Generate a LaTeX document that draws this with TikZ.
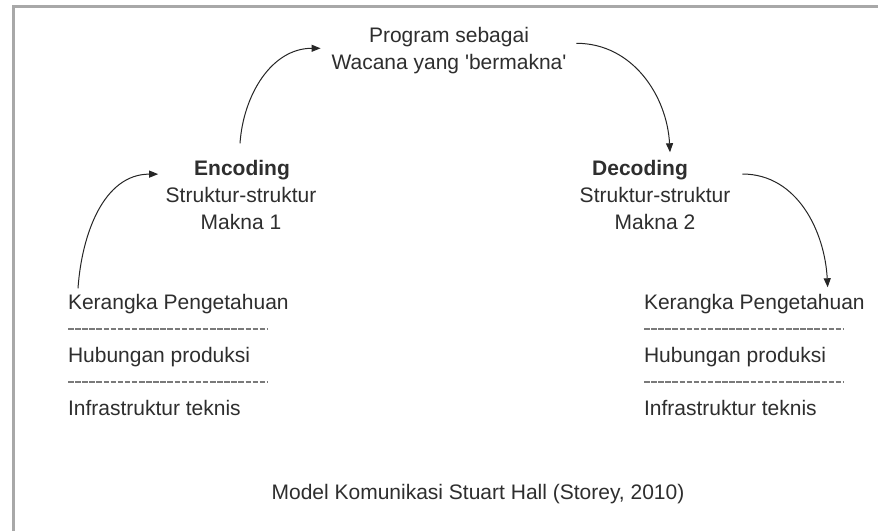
\documentclass[tikz,border=0pt]{standalone}
\usepackage{fontspec}
\setmainfont{Liberation Sans}
\usetikzlibrary{arrows.meta}
\definecolor{txtc}{HTML}{2E2E2E}
\definecolor{framec}{HTML}{A8A8A8}
\definecolor{sepc}{HTML}{7A7A7A}
\begin{document}
\begin{tikzpicture}[x=1pt,y=-1pt,
  txt/.style={inner sep=0pt, outer sep=0pt, text=txtc, font=\fontsize{21}{27}\selectfont},
  ttl/.style={txt, font=\fontsize{21}{27}\selectfont\bfseries},
  arr/.style={draw=black!85, line width=1pt, -{Triangle[length=9pt,width=7pt]}},
  sepline/.style={draw=sepc, line width=1.1pt, dash pattern=on 5.5pt off 1.6pt},
  frameline/.style={draw=framec, line width=3pt}
]
\useasboundingbox (0,0) rectangle (878,531);
\fill[white] (0,0) rectangle (878,531);
\draw[frameline] (13.5,531) -- (13.5,6.5) -- (878,6.5);

% top node
\node[txt, align=center, anchor=north] (prog) at (449,27) {Program sebagai\\Wacana yang \textquotesingle bermakna\textquotesingle};

% encoding
\node[ttl, anchor=base] (enct) at (242,175.5) {Encoding};
\node[txt, align=center, anchor=north] (encb) at (241,187) {Struktur-struktur\\Makna 1};

% decoding
\node[ttl, anchor=base] (dect) at (640,175.5) {Decoding};
\node[txt, align=center, anchor=north] (decb) at (655,187) {Struktur-struktur\\Makna 2};

% left stack
\node[txt, anchor=base west] (kerL) at (68,309.5) {Kerangka Pengetahuan};
\node[txt, anchor=base west] (hubL) at (68,362.5) {Hubungan produksi};
\node[txt, anchor=base west] (infL) at (68,415.5) {Infrastruktur teknis};
\draw[sepline] ([yshift=-19.5pt]kerL.base west) -- ++(199,0);
\draw[sepline] ([yshift=-19.5pt]hubL.base west) -- ++(199,0);

% right stack
\node[txt, anchor=base west] (kerR) at (644,309.5) {Kerangka Pengetahuan};
\node[txt, anchor=base west] (hubR) at (644,362.5) {Hubungan produksi};
\node[txt, anchor=base west] (infR) at (644,415.5) {Infrastruktur teknis};
\draw[sepline] ([yshift=-19.5pt]kerR.base west) -- ++(199,0);
\draw[sepline] ([yshift=-19.5pt]hubR.base west) -- ++(199,0);

% caption
\node[txt, anchor=base] (cap) at (478,499.5) {Model Komunikasi Stuart Hall (Storey, 2010)};

% arrows
\draw[arr] ([xshift=10pt,yshift=6pt]kerL.north west) to[out=86,in=180] ([xshift=-36pt,yshift=-4pt]enct.west);
\draw[arr] ([xshift=-2pt,yshift=17pt]enct.north) to[out=86,in=180] ([xshift=-11pt,yshift=2pt]prog.west);
\draw[arr] ([xshift=10pt,yshift=7pt]prog.east) to[out=0,in=93] ([xshift=30pt,yshift=8pt]dect.north);
\draw[arr] ([xshift=12pt,yshift=13pt]decb.north east) to[out=0,in=93] ([xshift=-37pt,yshift=7pt]kerR.north east);
\end{tikzpicture}
\end{document}
